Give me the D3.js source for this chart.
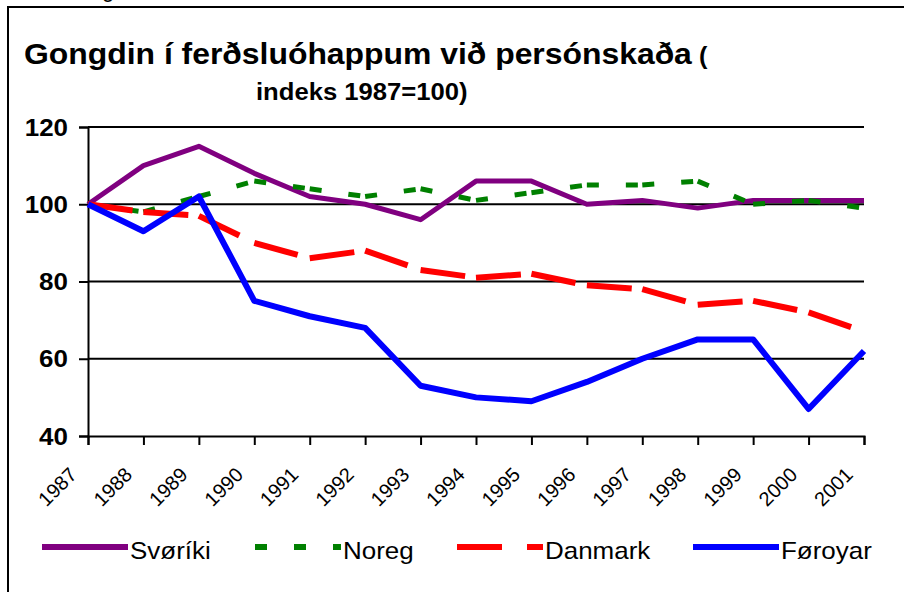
<!DOCTYPE html>
<html>
<head>
<meta charset="utf-8">
<script src="https://cdn.jsdelivr.net/npm/d3@7/dist/d3.min.js"></script>
<style>
  html, body { margin: 0; padding: 0; background: #fff; }
  svg { display: block; }
  text { font-family: "Liberation Sans", Arial, sans-serif; }
</style>
</head>
<body>
<svg id="chart" width="904" height="592"></svg>
<script>
// ---- data ----
const years = ["1987","1988","1989","1990","1991","1992","1993","1994","1995","1996","1997","1998","1999","2000","2001"];
const svoriki = [100,110,115,108,102,100,96,106,106,100,101,99,101,101,101];
const noreg   = [100,98,102,106,104,102,104,101,103,105,105,106,100,101,99];
const danmark = [100,98,97,90,86,88,83,81,82,79,78,74,75,72,67];
const foroyar = [100,93,102,75,71,68,53,50,49,54,60,65,65,47,62];
const seriesNames = ["Svøríki","Noreg","Danmark","Føroyar"];
const yTicks = [40,60,80,100,120];
const titleLine1 = "Gongdin í ferðsluóhappum við persónskaða";
const titleLine2 = "indeks 1987=100)";

// ---- layout ----
const svg = d3.select("#chart");
const SX = 1.1; // horizontal text stretch seen in the reference
const plot = {left: 88, right: 864, top: 127, bottom: 436};

const x = d3.scalePoint().domain(years).range([plot.left, plot.right]);
const y = d3.scaleLinear().domain([40,120]).range([plot.bottom, plot.top]);

svg.append("rect").attr("width",904).attr("height",592).attr("fill","#fff");

// outer frame (continues outside the photo)
svg.append("line").attr("x1",8).attr("x2",8).attr("y1",6).attr("y2",600)
  .attr("stroke","#000").attr("stroke-width",2);
svg.append("line").attr("x1",7).attr("x2",910).attr("y1",7).attr("y2",7)
  .attr("stroke","#000").attr("stroke-width",2.2);

// fragment of text above the frame
svg.append("text").attr("x",102).attr("y",-3).attr("font-size",22).text("g");

function stretchedText(sel, tx, ty, str, opts) {
  const t = sel.append("text")
    .attr("transform", `translate(${tx},${ty}) scale(${SX},1)`)
    .attr("font-size", opts.size)
    .attr("font-weight", opts.weight || "normal")
    .attr("text-anchor", opts.anchor || "start")
    .attr("fill", "#000");
  if (opts.dy) t.attr("dy", opts.dy);
  t.text(str);
  return t;
}

// title
const t1 = stretchedText(svg, 24, 64, titleLine1, {size: 29, weight: "bold"});
t1.append("tspan").attr("font-size", 23).text(" (");
stretchedText(svg, 256, 100, titleLine2, {size: 23.3, weight: "bold"});

// gridlines
svg.append("g").selectAll("line").data(yTicks.filter(d => d > 40)).join("line")
  .attr("x1", plot.left).attr("x2", plot.right)
  .attr("y1", d => y(d)).attr("y2", d => y(d))
  .attr("stroke", "#000").attr("stroke-width", 2);

// y axis
const yAxis = svg.append("g").attr("transform", `translate(${plot.left},0)`)
  .call(d3.axisLeft(y).tickValues(yTicks).tickSize(9).tickFormat(""));
yAxis.select(".domain").attr("stroke","#000").attr("stroke-width",2);
yAxis.selectAll(".tick line").attr("stroke","#000").attr("stroke-width",2);
yTicks.forEach(v => stretchedText(svg, 68, y(v), String(v), {size: 23.6, weight: "bold", anchor: "end", dy: "0.36em"}));

// x axis
const xAxis = svg.append("g").attr("transform", `translate(0,${plot.bottom})`)
  .call(d3.axisBottom(x).tickSize(9).tickFormat(""));
xAxis.select(".domain").attr("stroke","#000").attr("stroke-width",2);
xAxis.selectAll(".tick line").attr("stroke","#000").attr("stroke-width",2);
svg.append("g").selectAll("text").data(years).join("text")
  .attr("transform", d => `translate(${x(d)-10},476) rotate(-45)`)
  .attr("text-anchor","end")
  .attr("font-size",20)
  .text(d => d);

// series
const series = [
  {name: seriesNames[0], values: svoriki, color: "#800080", width: 5, dash: null},
  {name: seriesNames[1], values: noreg,   color: "#008000", width: 5, dash: "12,27"},
  {name: seriesNames[2], values: danmark, color: "#FF0000", width: 6, dash: "45,25"},
  {name: seriesNames[3], values: foroyar, color: "#0000FF", width: 6, dash: null}
];
const line = d3.line().x(d => x(d.year)).y(d => y(d.value));
const g = svg.append("g");
series.forEach(s => {
  const pts = years.map((yr, i) => ({year: yr, value: s.values[i]}));
  if (!s.dash) {
    g.append("path").attr("d", line(pts))
      .attr("fill","none").attr("stroke", s.color).attr("stroke-width", s.width)
      .attr("stroke-linejoin","round");
  } else {
    // dash pattern restarts on every segment, as in the reference
    for (let i = 0; i < pts.length - 1; i++) {
      g.append("path").attr("d", line([pts[i], pts[i+1]]))
        .attr("fill","none").attr("stroke", s.color).attr("stroke-width", s.width)
        .attr("stroke-dasharray", s.dash);
    }
  }
});

// legend
const legendX = [42, 255, 457, 693];
const legendLen = 86;
const legendY = 547;
series.forEach((s, i) => {
  const lx = legendX[i];
  svg.append("line").attr("x1", lx).attr("x2", lx + legendLen)
    .attr("y1", legendY).attr("y2", legendY)
    .attr("stroke", s.color).attr("stroke-width", 6)
    .attr("stroke-dasharray", s.dash);
  stretchedText(svg, lx + legendLen + 2, 559, s.name, {size: 23.6});
});
</script>
</body>
</html>
